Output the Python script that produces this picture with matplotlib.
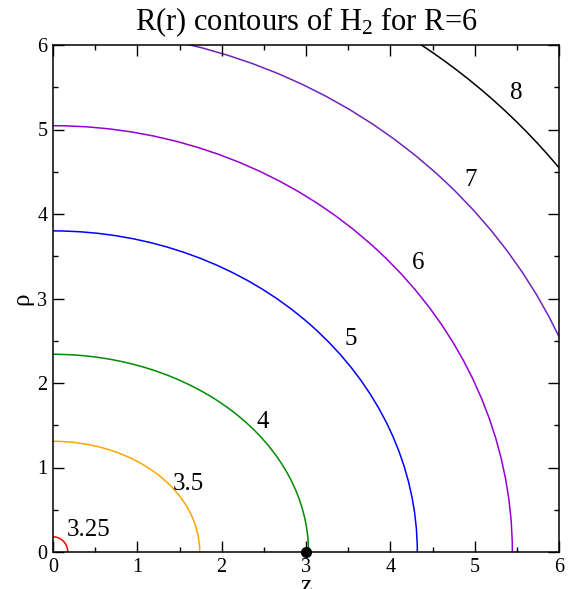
import numpy as np
import matplotlib
matplotlib.use('Agg')
import matplotlib.pyplot as plt
from matplotlib.patches import Arc

plt.rcParams['font.family'] = ['Liberation Serif', 'DejaVu Serif']
plt.rcParams['mathtext.fontset'] = 'custom'
plt.rcParams['mathtext.rm'] = 'Liberation Serif'
plt.rcParams['mathtext.it'] = 'Liberation Serif:italic'

# contour levels, read off the picture as quarter curves:
# crossing of the z axis (semi axis along z) and of the rho axis
levels = ['3.25', '3.5', '4', '5', '6', '7', '8']
z_cross = [0.175, 1.74, 3.03, 4.32, 5.447, 6.584, 7.67]
rho_cross = [0.18, 1.31, 2.34, 3.80, 5.045, 6.193, 7.30]
colors = ['#ff0000', '#ffa500', '#008b00', '#0000ff', '#9400d3', '#7221bc', '#000000']

# label placement (z, rho)
lab_z = [0.42, 1.61, 2.49, 3.53, 4.33, 4.95, 5.49]
lab_r = [0.26, 0.81, 1.54, 2.52, 3.42, 4.40, 5.43]

nucleus_z = [3.0]
nucleus_r = [0.0]

fig = plt.figure(figsize=(5.70, 5.89), dpi=100)
ax = fig.add_axes([53/570, 37/589, 506/570, 507/589])

for a, b, c in zip(z_cross, rho_cross, colors):
    ax.add_patch(Arc((0, 0), 2*a, 2*b, theta1=0, theta2=90, color=c, lw=1.1))

for t, x, y in zip(levels, lab_z, lab_r):
    ax.text(x, y, t, fontsize=18, ha='center', va='center')

ax.plot(nucleus_z, nucleus_r, 'o', color='k', ms=7, clip_on=False, zorder=5)

ax.set_xlim(0, 6)
ax.set_ylim(0, 6)
ax.set_xticks(np.arange(0, 7, 1))
ax.set_yticks(np.arange(0, 7, 1))
ax.set_xticks(np.arange(0.5, 6, 1), minor=True)
ax.set_yticks(np.arange(0.5, 6, 1), minor=True)
ax.tick_params(which='both', direction='in', top=True, right=True, labelsize=14.5, width=1.0)
ax.tick_params(which='major', length=7.7)
ax.tick_params(which='minor', length=3.8)
ax.tick_params(axis='x', pad=4)
ax.tick_params(axis='y', pad=4)
for s in ax.spines.values():
    s.set_linewidth(1.1)

ax.set_xlabel('z', fontsize=18, labelpad=-1)
ax.set_ylabel('ρ', fontsize=18, labelpad=3)
ax.set_title('R(r) contours of H$_2$ for R=6', fontsize=22, pad=11)

plt.savefig('out.png', dpi=100)
